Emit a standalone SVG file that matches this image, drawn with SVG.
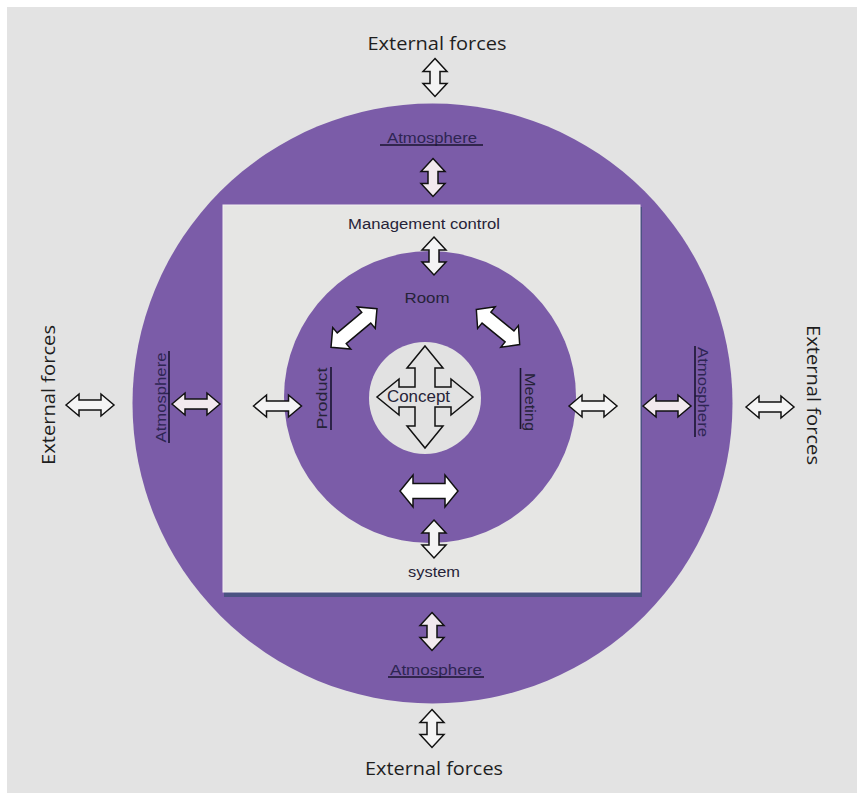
<svg xmlns="http://www.w3.org/2000/svg" width="857" height="793" viewBox="0 0 857 793">
<style>
.ext{font-family:"Open Sans","Liberation Sans",sans-serif;font-size:18.5px;fill:#1e1e1e;text-anchor:middle}
.lbl{font-family:"Liberation Sans",Arial,sans-serif;font-size:14px;fill:#262338;text-anchor:middle}
.atm{font-family:"Liberation Sans",Arial,sans-serif;font-size:14px;fill:#2e2553;text-anchor:middle}
.ul{stroke:#1a1530;stroke-width:1.6}
.arr{stroke:#111;stroke-width:1.5;stroke-linejoin:miter}
.aw{fill:#f4f4f4}
.ap{fill:#f2e9ee}
.ab{fill:#ffffff}
</style>
<defs>
<path id="hz" d="M-24 0 L-11 -11 L-11 -5 L11 -5 L11 -11 L24 0 L11 11 L11 5 L-11 5 L-11 11 Z"/>
<path id="vt" d="M0 -19 L12 -6 L5 -6 L5 6 L12 6 L0 19 L-12 6 L-5 6 L-5 -6 L-12 -6 Z"/>
<path id="big" d="M-30 0 L-16 -14 L-16 -7 L16 -7 L16 -14 L30 0 L16 14 L16 7 L-16 7 L-16 14 Z"/>
</defs>
<rect x="0" y="0" width="857" height="793" fill="#ffffff"/>
<rect x="7" y="7" width="850" height="786" fill="#e3e3e3"/>

<g id="outer-ring">
<circle cx="432.5" cy="403.5" r="300" fill="#7b5ca8"/>
</g>
<g id="management-square">
<rect x="224" y="207" width="418" height="390" fill="#4b5282"/>
<rect x="223" y="205" width="417" height="387" fill="#e6e6e4" stroke="#f3eef2" stroke-width="1"/>
</g>
<g id="room-ring">
<circle cx="430" cy="397" r="146" fill="#7b5ca8"/>
</g>
<g id="concept-circle">
<circle cx="425" cy="398" r="56" fill="#e2e2e2"/>
</g>

<g id="connectors">
<use href="#vt" class="arr aw" transform="translate(435,77.5)"/>
<use href="#vt" class="arr ap" transform="translate(433,177.5)"/>
<use href="#vt" class="arr aw" transform="translate(434,256)"/>
<use href="#vt" class="arr aw" transform="translate(434,539)"/>
<use href="#vt" class="arr ap" transform="translate(432,631.5)"/>
<use href="#vt" class="arr aw" transform="translate(432,728.5)"/>
<use href="#hz" class="arr aw" transform="translate(90,405)"/>
<use href="#hz" class="arr ap" transform="translate(196,404)"/>
<use href="#hz" class="arr aw" transform="translate(277.5,406)"/>
<use href="#hz" class="arr aw" transform="translate(593,406)"/>
<use href="#hz" class="arr ap" transform="translate(667,406)"/>
<use href="#hz" class="arr aw" transform="translate(770,407)"/>
<use href="#big" class="arr ab" transform="translate(354,328) rotate(-40)"/>
<use href="#big" class="arr ab" transform="translate(498,327) rotate(39) scale(0.93,1)"/>
<path class="arr ab" transform="translate(429,491)" d="M-29 0 L-16 -16 L-16 -7.5 L16 -7.5 L16 -16 L29 0 L16 16 L16 7.5 L-16 7.5 L-16 16 Z"/>
<path class="arr" fill="#e2e2e2" fill-opacity="0.6" transform="translate(425,397)" d="M0 -51 L18 -29 L10 -29 L10 -10 L26 -10 L26 -18 L48 0 L26 18 L26 10 L10 10 L10 29 L18 29 L0 51 L-18 29 L-10 29 L-10 10 L-26 10 L-26 18 L-48 0 L-26 -18 L-26 -10 L-10 -10 L-10 -29 L-18 -29 Z"/>
</g>

<g id="external-top"><text class="ext" x="437" y="50" textLength="139" lengthAdjust="spacingAndGlyphs">External forces</text></g>
<g id="external-bottom"><text class="ext" x="434" y="775" textLength="138" lengthAdjust="spacingAndGlyphs">External forces</text></g>
<g id="external-left"><text class="ext" transform="translate(55,395) rotate(-90)" textLength="140" lengthAdjust="spacingAndGlyphs">External forces</text></g>
<g id="external-right"><text class="ext" transform="translate(807,395) rotate(90)" textLength="140" lengthAdjust="spacingAndGlyphs">External forces</text></g>

<g id="atmosphere-top"><text class="atm" x="432" y="143" textLength="90" lengthAdjust="spacingAndGlyphs">Atmosphere</text><line class="ul" x1="380" y1="145" x2="483" y2="145"/></g>
<g id="atmosphere-bottom"><text class="atm" x="436" y="675" textLength="92" lengthAdjust="spacingAndGlyphs">Atmosphere</text><line class="ul" x1="388" y1="677" x2="484" y2="677"/></g>
<g id="atmosphere-left"><text class="atm" transform="translate(166,397.5) rotate(-90)" textLength="90" lengthAdjust="spacingAndGlyphs">Atmosphere</text><line class="ul" x1="169" y1="351" x2="169" y2="443"/></g>
<g id="atmosphere-right"><text class="atm" transform="translate(698,392) rotate(90)" textLength="90" lengthAdjust="spacingAndGlyphs">Atmosphere</text><line class="ul" x1="695" y1="346" x2="695" y2="437"/></g>

<g id="management"><text class="lbl" x="424" y="229" textLength="152" lengthAdjust="spacingAndGlyphs">Management control</text></g>
<g id="room"><text class="lbl" x="427" y="303" textLength="45" lengthAdjust="spacingAndGlyphs">Room</text></g>
<g id="product"><text class="lbl" transform="translate(327,398.5) rotate(-90)" textLength="62" lengthAdjust="spacingAndGlyphs">Product</text><line class="ul" x1="331" y1="367" x2="331" y2="430"/></g>
<g id="meeting"><text class="lbl" transform="translate(524.5,402) rotate(90)" textLength="58" lengthAdjust="spacingAndGlyphs">Meeting</text><line class="ul" x1="520.5" y1="368" x2="520.5" y2="429"/></g>
<g id="concept"><text class="lbl" x="418.5" y="402" style="font-size:16px" textLength="63" lengthAdjust="spacingAndGlyphs">Concept</text></g>
<g id="system"><text class="lbl" x="434" y="577" textLength="52" lengthAdjust="spacingAndGlyphs">system</text></g>
</svg>
